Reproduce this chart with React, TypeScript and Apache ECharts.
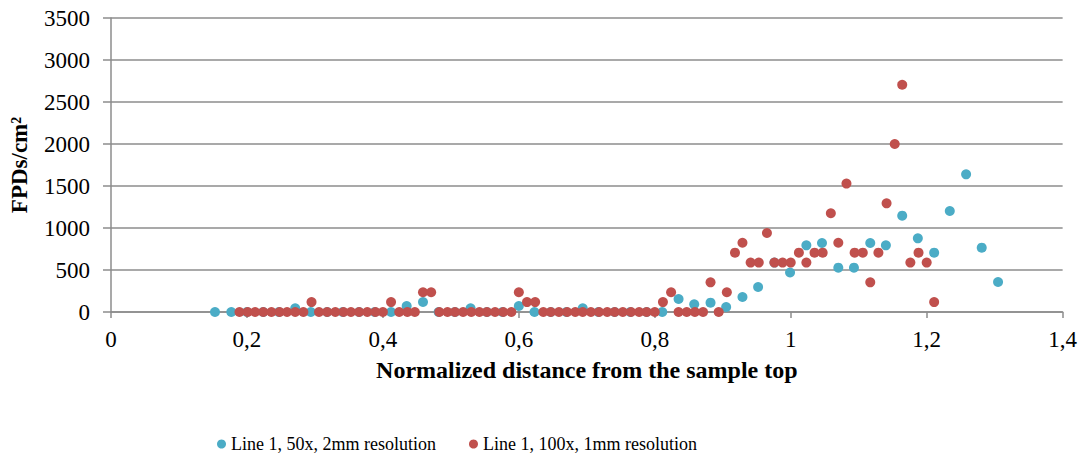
import React, { useEffect, useRef } from "react";
import * as echarts from "echarts";

// Line 1, 50x objective, 2 mm sampling step
const blueX = [
  0.153, 0.177, 0.200, 0.224, 0.247, 0.271, 0.294, 0.318, 0.341, 0.365,
  0.388, 0.412, 0.435, 0.459, 0.482, 0.506, 0.529, 0.553, 0.576, 0.600,
  0.623, 0.647, 0.670, 0.694, 0.717, 0.741, 0.764, 0.788, 0.811, 0.835,
  0.858, 0.882, 0.905, 0.929, 0.952, 0.976, 0.999, 1.023, 1.046, 1.070,
  1.093, 1.117, 1.140, 1.164, 1.187, 1.211, 1.234, 1.258, 1.281, 1.305,
];
const blueY = [
  0, 0, 0, 0, 0, 44, 0, 0, 0, 0,
  0, 0, 71, 119, 0, 0, 44, 0, 0, 71,
  0, 0, 0, 44, 0, 0, 0, 0, 0, 155,
  91, 111, 60, 179, 298, 588, 470, 794, 821, 528,
  528, 821, 794, 1147, 877, 706, 1202, 1639, 766, 357,
];

// Line 1, 100x objective, 1 mm sampling step
const redX = [
  0.189, 0.201, 0.212, 0.224, 0.236, 0.248, 0.259, 0.271, 0.283, 0.295,
  0.306, 0.318, 0.330, 0.342, 0.353, 0.365, 0.377, 0.389, 0.400, 0.412,
  0.424, 0.436, 0.447, 0.459, 0.471, 0.483, 0.495, 0.506, 0.518, 0.530,
  0.542, 0.553, 0.565, 0.577, 0.589, 0.600, 0.612, 0.624, 0.636, 0.647,
  0.659, 0.671, 0.683, 0.694, 0.706, 0.718, 0.730, 0.741, 0.753, 0.765,
  0.777, 0.788, 0.800, 0.812, 0.824, 0.835, 0.847, 0.859, 0.871, 0.882,
  0.894, 0.906, 0.918, 0.929, 0.941, 0.953, 0.965, 0.976, 0.988, 1.000,
  1.012, 1.023, 1.035, 1.047, 1.059, 1.070, 1.082, 1.094, 1.106, 1.117,
  1.129, 1.141, 1.153, 1.164, 1.176, 1.188, 1.200, 1.211,
];
const redY = [
  0, 0, 0, 0, 0, 0, 0, 0, 0, 118,
  0, 0, 0, 0, 0, 0, 0, 0, 0, 118,
  0, 0, 0, 235, 235, 0, 0, 0, 0, 0,
  0, 0, 0, 0, 0, 235, 118, 118, 0, 0,
  0, 0, 0, 0, 0, 0, 0, 0, 0, 0,
  0, 0, 0, 118, 235, 0, 0, 0, 0, 353,
  0, 235, 706, 824, 588, 588, 941, 588, 588, 588,
  706, 588, 706, 706, 1176, 824, 1529, 706, 706, 353,
  706, 1294, 2000, 2705, 588, 706, 588, 118,
];

const xTicks = { min: 0, max: 1.4, step: 0.2 };
const yTicks = { min: 0, max: 3500, step: 500 };

const seriesNames = ["Line 1, 50x, 2mm resolution", "Line 1, 100x, 1mm resolution"];
const xTitle = "Normalized distance from the sample top";
const yTitle = "FPDs/cm²";

const FONT = "Liberation Serif";
const GRID_GRAY = "#8c8c8c";

export default function App() {
  const ref = useRef<HTMLDivElement>(null);

  useEffect(() => {
    if (!ref.current) return;
    const chart = echarts.init(ref.current, undefined, { renderer: "svg" });
    const pairs = (xs: number[], ys: number[]) => xs.map((x, i) => [x, ys[i]]);

    chart.setOption({
      animation: false,
      backgroundColor: "#ffffff",
      textStyle: { fontFamily: FONT, color: "#000" },
      grid: { left: 110, right: 17, top: 18, bottom: 147 },
      legend: {
        left: 212,
        top: 430,
        icon: "circle",
        itemWidth: 9,
        itemHeight: 9,
        itemGap: 33,
        textStyle: { fontFamily: FONT, fontSize: 18, color: "#000" },
        data: seriesNames,
      },
      xAxis: {
        type: "value",
        min: xTicks.min,
        max: xTicks.max,
        interval: xTicks.step,
        name: xTitle,
        nameLocation: "middle",
        nameGap: 46,
        nameTextStyle: { fontFamily: FONT, fontSize: 24, fontWeight: "bold", color: "#000" },
        axisLine: { show: true, lineStyle: { color: GRID_GRAY, width: 1.5 } },
        axisTick: { show: true, length: 6, lineStyle: { color: GRID_GRAY, width: 1.5 } },
        splitLine: { show: false },
        axisLabel: {
          margin: 16,
          fontFamily: FONT,
          fontSize: 23,
          color: "#000",
          formatter: (v: number) => String(Math.round(v * 10) / 10).replace(".", ","),
        },
      },
      yAxis: {
        type: "value",
        min: yTicks.min,
        max: yTicks.max,
        interval: yTicks.step,
        name: yTitle,
        nameLocation: "middle",
        nameGap: 80,
        nameRotate: 90,
        nameTextStyle: { fontFamily: FONT, fontSize: 23, fontWeight: "bold", color: "#000" },
        axisLine: { show: true, lineStyle: { color: GRID_GRAY, width: 1.5 } },
        axisTick: { show: true, length: 8, lineStyle: { color: GRID_GRAY, width: 1.5 } },
        splitLine: { show: true, lineStyle: { color: GRID_GRAY, width: 1.5 } },
        axisLabel: {
          margin: 21,
          fontFamily: FONT,
          fontSize: 23,
          color: "#000",
          formatter: (v: number) => String(v),
        },
      },
      series: [
        {
          name: seriesNames[0],
          type: "scatter",
          symbol: "circle",
          symbolSize: 10,
          itemStyle: { color: "#4bacc6", opacity: 1 },
          data: pairs(blueX, blueY),
          z: 2,
        },
        {
          name: seriesNames[1],
          type: "scatter",
          symbol: "circle",
          symbolSize: 10,
          itemStyle: { color: "#c0504d", opacity: 1 },
          data: pairs(redX, redY),
          z: 3,
        },
      ],
    });

    return () => chart.dispose();
  }, []);

  return (
    <div
      ref={ref}
      style={{ position: "absolute", left: 0, top: 0, width: 1080, height: 459, background: "#fff" }}
    />
  );
}
